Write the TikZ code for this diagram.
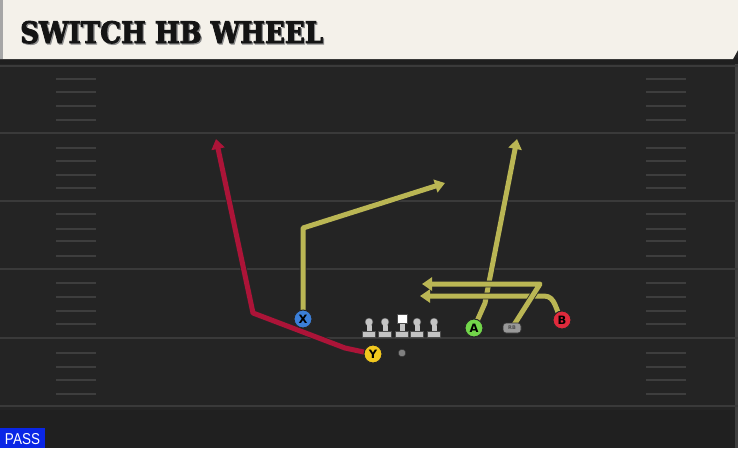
\documentclass[tikz,border=0pt]{standalone}
\usepackage{fontspec}
\usetikzlibrary{arrows.meta}
\newfontfamily\titlefont{DejaVu Serif}[BoldFeatures={FakeBold=3}]
\newfontfamily\labelfont{DejaVu Sans}
\newfontfamily\passfont{Liberation Sans}
\definecolor{fieldbg}{HTML}{242424}
\definecolor{yardline}{HTML}{3A3A3A}
\definecolor{hashc}{HTML}{3E3E3E}
\definecolor{cream}{HTML}{F4F1EA}
\definecolor{routeY}{RGB}{186,182,84}
\definecolor{routeR}{RGB}{172,20,56}
\definecolor{pblue}{HTML}{3B7FD9}
\definecolor{pyellow}{HTML}{F2C81E}
\definecolor{pgreen}{HTML}{72D64A}
\definecolor{pred}{HTML}{E02A3C}
\definecolor{passblue}{HTML}{0A26E6}
\definecolor{olgray}{HTML}{C4C4C4}
\tikzset{
  player/.style={circle, draw=black!85, line width=1pt, minimum size=18pt, inner sep=0pt,
    font=\labelfont\bfseries\fontsize{11.5}{11.5}\selectfont, text=black},
  route/.style={line width=5pt, line join=round, preaction={draw=black!85, line width=6.6pt}},
  yroute/.style={route, draw=routeY, -{Triangle[length=10pt,width=13pt]}},
  rroute/.style={route, draw=routeR, -{Triangle[length=10pt,width=13pt]}},
  hashmark/.style={draw=hashc, line width=1.4pt},
  yardmark/.style={draw=yardline, line width=1.5pt},
  lineman/.pic={
    \fill[olgray, draw=black!70, line width=0.4pt] (-6.5,4) rectangle (6.5,10);
    \fill[olgray] (-2.5,-3) rectangle (2.5,4.3);
    \fill[olgray, draw=black!70, line width=0.4pt] (0,-5) circle (4);
    \fill[olgray] (-2.3,-3) rectangle (2.3,4.3);
  },
  centerman/.pic={
    \fill[olgray, draw=black!70, line width=0.4pt] (-6.5,4) rectangle (6.5,10);
    \fill[olgray] (-2.5,-4) rectangle (2.5,4.3);
    \fill[white, draw=black!70, line width=0.4pt] (-5,-13) rectangle (5,-4);
  }
}
\begin{document}
\begin{tikzpicture}[x=1pt,y=-1pt]
\useasboundingbox (0,0) rectangle (738,448);
% field
\fill[fieldbg] (0,0) rectangle (738,448);
\fill[black!12!fieldbg] (0,410) rectangle (738,448);
\fill[black!75] (735,59) rectangle (738,448);
% yard lines
\foreach \yy in {66,133,201,269,338,406} {
  \draw[yardmark] (0,\yy) -- (738,\yy);
}
% hash marks
\foreach \yy in {79,92,106,120,148,161,175,188,214,229,241,256,283,297,311,324,353,367,380,394} {
  \draw[hashmark] (56,\yy) -- (96,\yy);
  \draw[hashmark] (646,\yy) -- (686,\yy);
}
% header
\fill[black!88] (0,58) rectangle (738,64);
\fill[cream] (0,0) -- (738,0) -- (738,50) -- (733,59) -- (0,59) -- cycle;
\fill[black!35] (0,0) rectangle (2.5,59);
\node[anchor=base west, inner sep=0pt, text=black!45] (titleshadow) at (21.2,44.2)
  {\resizebox{303pt}{22pt}{\titlefont\bfseries SWITCH HB WHEEL}};
\node[anchor=base west, inner sep=0pt, text=black!92] (title) at (20,43)
  {\resizebox{303pt}{22pt}{\titlefont\bfseries SWITCH HB WHEEL}};
% player positions
\coordinate (pX) at (303,319);
\coordinate (pY) at (373,354);
\coordinate (pA) at (474,328);
\coordinate (pRB) at (512,328);
\coordinate (pB) at (562,320);
% route points
\coordinate (yb1) at (345,348);
\coordinate (yb2) at (253,313);
\coordinate (yend) at (216,139);
\coordinate (xb1) at (303,228);
\coordinate (xend) at (445,183);
\coordinate (ab1) at (485,303);
\coordinate (aend) at (517,139);
\coordinate (rbb1) at (540,284);
\coordinate (rbend) at (422,284);
\coordinate (bb1) at (544,296);
\coordinate (bend) at (420,296);
% routes
\draw[rroute] (pY) -- (yb1) -- (yb2) -- (yend);
\draw[yroute] (pX) -- (xb1) -- (xend);
\draw[yroute] (pA) -- (ab1) -- (aend);
\draw[yroute] (pB) to[out=125, in=0] (bb1) -- (bend);
\draw[yroute] (pRB) -- (rbb1) -- (rbend);
% offensive line
\pic at (369,327) {lineman};
\pic at (385,327) {lineman};
\pic at (402,327) {centerman};
\pic at (417,327) {lineman};
\pic at (434,327) {lineman};
% ball
\fill[black!50, draw=black!80, line width=0.5pt] (402,353) circle (3.8);
% players
\node[player, fill=pblue] (X) at (pX) {X};
\node[player, fill=pyellow] (Y) at (pY) {Y};
\node[player, fill=pgreen] (A) at (pA) {A};
\node[player, fill=pred] (B) at (pB) {B};
\node[draw=black!80, fill=black!40, rounded corners=3pt, minimum width=18pt, minimum height=10pt,
  inner sep=0pt, line width=0.7pt, font=\labelfont\bfseries\fontsize{5}{5}\selectfont, text=black!70] (RB) at (pRB) {RB};
% pass tag
\fill[passblue] (0,428) rectangle (45,448);
\node[inner sep=0pt, text=white] (pass) at (22.5,439)
  {\resizebox{35pt}{11pt}{\passfont PASS}};
\end{tikzpicture}
\end{document}
